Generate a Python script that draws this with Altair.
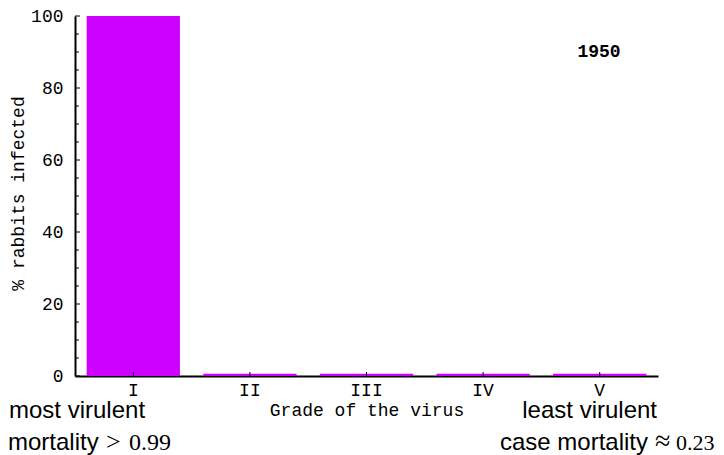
import altair as alt
import pandas as pd

# ---- data ----
grades = ["I", "II", "III", "IV", "V"]
pct_infected = [100, 0.6, 0.6, 0.6, 0.6]
y_major_ticks = [0, 20, 40, 60, 80, 100]
y_minor_ticks = [v for v in range(0, 101, 5) if v % 20 != 0]

year_label = "1950"
left_label = "most virulent"
right_label = "least virulent"
left_mort_word = "mortality"
left_mort_rel = ">"
left_mort_val = "0.99"
right_mort_word = "case mortality"
right_mort_rel = "≈"
right_mort_val = "0.23"

MONO = "Courier, 'Liberation Mono', monospace"
SANS = "Helvetica, 'Liberation Sans', Arial, sans-serif"
SERIF = "'Liberation Serif', 'Times New Roman', serif"
PURPLE = "#CC00FF"

df = pd.DataFrame({"grade": grades, "pct": pct_infected})

xscale = alt.Scale(domain=grades, paddingInner=0.2, paddingOuter=0.1)
yscale = alt.Scale(domain=[0, 100], nice=False)

xaxis = alt.Axis(
    title="Grade of the virus", titleFont=MONO, titleFontSize=18,
    titleFontWeight="normal", titleColor="black", titleY=39,
    titleBaseline="alphabetic",
    labelAngle=0, labelFont=MONO, labelFontSize=18, labelColor="black",
    labelBaseline="alphabetic", labelPadding=19,
    ticks=False, tickSize=0, domainColor="black", domainWidth=2, grid=False,
)
yaxis = alt.Axis(
    title="% rabbits infected", titleFont=MONO, titleFontSize=18,
    titleFontWeight="normal", titleColor="black",
    titleX=-57, titleY=177, titleAngle=270, titleAlign="center",
    titleBaseline="middle",
    values=y_major_ticks, labelFont=MONO, labelFontSize=18,
    labelColor="black", labelPadding=12,
    ticks=False, tickSize=0, domainColor="black", domainWidth=2, grid=False,
)

bars = alt.Chart(df).mark_bar(color=PURPLE).encode(
    x=alt.X("grade:N", sort=grades, scale=xscale, axis=xaxis),
    y=alt.Y("pct:Q", scale=yscale, axis=yaxis),
)

xticks = alt.Chart(df).mark_rule(color="black", strokeWidth=1).encode(
    x=alt.X("grade:N", sort=grades, scale=xscale, axis=xaxis, bandPosition=0.5),
    y=alt.value(356), y2=alt.value(360),
)

ymaj = alt.Chart(pd.DataFrame({"pct": y_major_ticks})).mark_rule(
    color="black", strokeWidth=1
).encode(
    y=alt.Y("pct:Q", scale=yscale, axis=yaxis),
    x=alt.value(0), x2=alt.value(5),
)
ymin = alt.Chart(pd.DataFrame({"pct": y_minor_ticks})).mark_rule(
    color="black", strokeWidth=1
).encode(
    y=alt.Y("pct:Q", scale=yscale, axis=yaxis),
    x=alt.value(0), x2=alt.value(4),
)


def note(text, x, y, font, size, align="left", weight="normal"):
    return alt.Chart(pd.DataFrame({"t": [text]})).mark_text(
        font=font, fontSize=size, align=align, baseline="alphabetic",
        fontWeight=weight, color="black",
    ).encode(text="t:N", x=alt.value(x), y=alt.value(y))


notes = [
    note(year_label, 524, 41, MONO, 18, "center", "bold"),
    note(left_label, -66, 402, SANS, 24, "left"),
    note(right_label, 582, 402, SANS, 24, "right"),
    note(left_mort_word, -67, 434, SANS, 24, "left"),
    note(left_mort_rel, 31, 434, SERIF, 26, "left"),
    note(left_mort_val, 54, 434, SERIF, 24, "left"),
    note(right_mort_word, 573, 434, SANS, 24, "right"),
    note(right_mort_rel, 580, 434, SERIF, 28, "left"),
    note(right_mort_val, 601, 434, SERIF, 22, "left"),
]

chart = alt.layer(bars, xticks, ymaj, ymin, *notes).properties(
    width=583, height=360,
    autosize=alt.AutoSizeParams(type="none"),
    padding={"left": 67, "top": 8, "right": 58, "bottom": 79},
    background="white",
).configure_view(stroke=None)

chart.save("out.html", embed_options={"renderer": "svg", "actions": False})
